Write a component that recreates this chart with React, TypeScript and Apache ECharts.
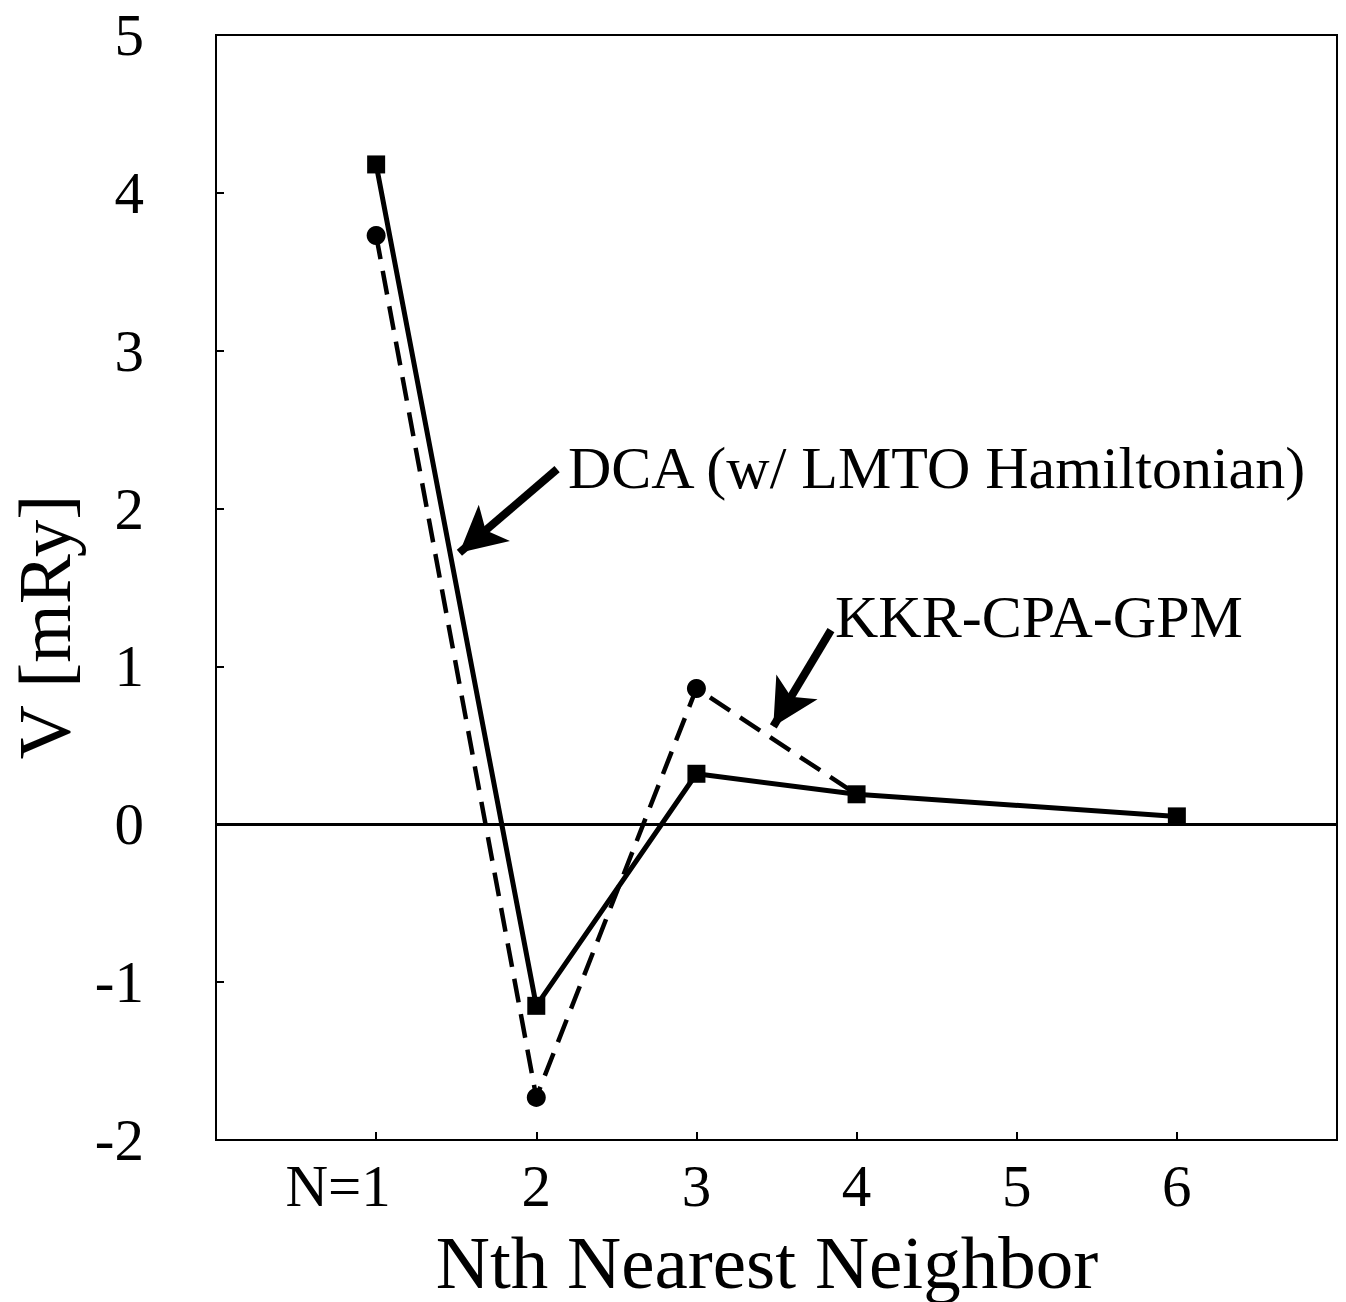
import React, { useEffect, useRef } from "react";
import * as echarts from "echarts";

const FONT = '"Liberation Serif", "Times New Roman", serif';

const neighbors = [1, 2, 3, 4, 6];
const dcaValues = [4.18, -1.15, 0.32, 0.19, 0.05];
const kkrNeighbors = [1, 2, 3, 4];
const kkrValues = [3.73, -1.73, 0.86, 0.19];
const yTicks = [-2, -1, 0, 1, 2, 3, 4, 5];
const xTickLabels = ["N=1", "2", "3", "4", "5", "6"];

const dcaLabel = "DCA (w/ LMTO Hamiltonian)";
const kkrLabel = "KKR-CPA-GPM";
// arrows in data coordinates: [tail, tip]
const dcaArrow = [[2.13, 2.25], [1.52, 1.72]];
const kkrArrow = [[3.84, 1.23], [3.48, 0.62]];

export default function App() {
  const ref = useRef<HTMLDivElement>(null);
  useEffect(() => {
    document.body.style.margin = "0";
    const chart = echarts.init(ref.current!, null, { renderer: "svg" });
    const arrowLine = (a: number[][]) => [
      { coord: a[0], symbol: "none" },
      { coord: a[1], symbol: "arrow", symbolSize: [36, 46] },
    ];
    chart.setOption({
      animation: false,
      backgroundColor: "#fff",
      grid: {
        left: 216,
        right: 9,
        top: 35,
        bottom: 162,
        show: true,
        borderColor: "#000",
        borderWidth: 2,
      },
      xAxis: {
        type: "value",
        min: 0,
        max: 7,
        interval: 1,
        axisLine: { show: true, onZero: false, lineStyle: { color: "#000", width: 2 } },
        axisTick: { show: true, inside: true, length: 8, lineStyle: { color: "#000", width: 2 } },
        splitLine: { show: false },
        axisLabel: {
          margin: 16,
          color: "#000",
          fontFamily: FONT,
          fontSize: 59,
          formatter: (v: number) => {
            if (v === 1) return "{n|" + xTickLabels[0] + "}";
            if (v >= 2 && v <= 6) return xTickLabels[v - 1];
            return "";
          },
          rich: {
            n: { fontFamily: FONT, fontSize: 59, color: "#000", padding: [0, 76, 0, 0] },
          },
        },
      },
      yAxis: {
        type: "value",
        min: yTicks[0],
        max: yTicks[yTicks.length - 1],
        interval: 1,
        axisLine: { show: true, onZero: false, lineStyle: { color: "#000", width: 2 } },
        axisTick: { show: true, inside: true, length: 8, lineStyle: { color: "#000", width: 2 } },
        splitLine: { show: false },
        axisLabel: {
          margin: 72,
          color: "#000",
          fontFamily: FONT,
          fontSize: 59,
        },
      },
      series: [
        {
          name: "KKR-CPA-GPM",
          type: "line",
          data: kkrNeighbors.map((n, i) =>
            i === kkrNeighbors.length - 1
              ? { value: [n, kkrValues[i]], symbol: "none" }
              : [n, kkrValues[i]]
          ),
          symbol: "circle",
          symbolSize: 19,
          itemStyle: { color: "#000" },
          lineStyle: { color: "#000", width: 4.5, type: [24, 12] },
          z: 2,
          markLine: {
            silent: true,
            symbol: "none",
            label: { show: false },
            lineStyle: { color: "#000", width: 8, type: "solid" },
            data: [arrowLine(dcaArrow), arrowLine(kkrArrow)],
          },
        },
        {
          name: "DCA",
          type: "line",
          data: neighbors.map((n, i) => [n, dcaValues[i]]),
          symbol: "rect",
          symbolSize: 18,
          itemStyle: { color: "#000" },
          lineStyle: { color: "#000", width: 5 },
          z: 3,
          markLine: {
            silent: true,
            symbol: "none",
            label: { show: false },
            lineStyle: { color: "#000", width: 3, type: "solid" },
            data: [{ yAxis: 0 }],
          },
        },
      ],
      graphic: [
        {
          type: "text",
          x: 568,
          y: 468,
          style: { text: dcaLabel, font: "60px " + FONT, fill: "#000", align: "left", verticalAlign: "middle" },
        },
        {
          type: "text",
          x: 835,
          y: 617,
          style: { text: kkrLabel, font: "60px " + FONT, fill: "#000", align: "left", verticalAlign: "middle" },
        },
        {
          type: "text",
          x: 767,
          y: 1262,
          style: { text: "Nth Nearest Neighbor", font: "75px " + FONT, fill: "#000", align: "center", verticalAlign: "middle" },
        },
        {
          type: "text",
          x: 44,
          y: 627,
          rotation: Math.PI / 2,
          style: { text: "V [mRy]", font: "75px " + FONT, fill: "#000", align: "center", verticalAlign: "middle" },
        },
      ],
    });
    return () => chart.dispose();
  }, []);
  return <div ref={ref} style={{ width: 1346, height: 1302 }} />;
}
